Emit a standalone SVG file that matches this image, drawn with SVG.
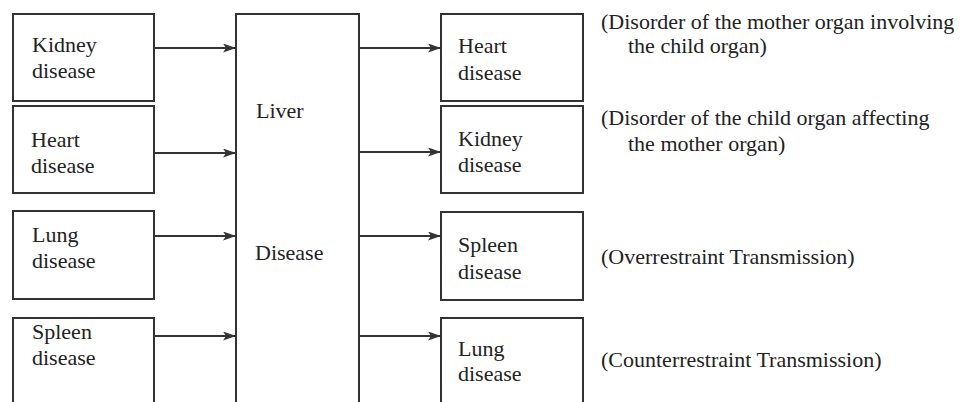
<svg xmlns="http://www.w3.org/2000/svg" width="974" height="402" viewBox="0 0 974 402">
<style>
.box{fill:none;stroke:#333;stroke-width:2}
.t{font-family:"Liberation Serif","Times New Roman",serif;font-size:22px;fill:#222}
.c line{stroke:#333;stroke-width:1.8}
</style>
<defs>
<marker id="ah" viewBox="0 0 13 9" refX="13" refY="4.5" markerWidth="13" markerHeight="9" markerUnits="userSpaceOnUse" orient="auto">
<path d="M0,0 L13,4.5 L0,9 L3,4.5 Z" fill="#333"/>
</marker>
</defs>
<rect width="974" height="402" fill="#fff"/>
<g id="left-kidney"><rect class="box" x="13" y="14" width="141" height="87"/><text class="t" x="32" y="52">Kidney</text><text class="t" x="32" y="78">disease</text></g>
<g id="left-heart"><rect class="box" x="13" y="106" width="141" height="87"/><text class="t" x="31" y="147">Heart</text><text class="t" x="31" y="173">disease</text></g>
<g id="left-lung"><rect class="box" x="13" y="211" width="141" height="88"/><text class="t" x="32" y="242">Lung</text><text class="t" x="32" y="268">disease</text></g>
<g id="left-spleen"><rect class="box" x="13" y="318" width="141" height="100"/><text class="t" x="32" y="339">Spleen</text><text class="t" x="32" y="365">disease</text></g>
<g id="liver"><rect class="box" x="236" y="14" width="123" height="404"/><text class="t" x="256" y="118">Liver</text><text class="t" x="255" y="260">Disease</text></g>
<g id="right-heart"><rect class="box" x="441" y="14" width="142" height="87"/><text class="t" x="458" y="53">Heart</text><text class="t" x="458" y="80">disease</text></g>
<g id="right-kidney"><rect class="box" x="441" y="106" width="142" height="87"/><text class="t" x="458" y="146">Kidney</text><text class="t" x="458" y="172">disease</text></g>
<g id="right-spleen"><rect class="box" x="441" y="212" width="142" height="88"/><text class="t" x="458" y="252">Spleen</text><text class="t" x="458" y="279">disease</text></g>
<g id="right-lung"><rect class="box" x="441" y="318" width="142" height="100"/><text class="t" x="458" y="356">Lung</text><text class="t" x="458" y="381">disease</text></g>
<g id="notes">
<text class="t" x="601" y="29">(Disorder of the mother organ involving</text>
<text class="t" x="628" y="53">the child organ)</text>
<text class="t" x="601" y="125">(Disorder of the child organ affecting</text>
<text class="t" x="628" y="151">the mother organ)</text>
<text class="t" x="601" y="264">(Overrestraint Transmission)</text>
<text class="t" x="601" y="367">(Counterrestraint Transmission)</text>
</g>
<g id="connectors" class="c">
<line x1="154" y1="48" x2="236" y2="48" marker-end="url(#ah)"/>
<line x1="154" y1="153" x2="236" y2="153" marker-end="url(#ah)"/>
<line x1="154" y1="236" x2="236" y2="236" marker-end="url(#ah)"/>
<line x1="154" y1="336" x2="236" y2="336" marker-end="url(#ah)"/>
<line x1="359" y1="48" x2="441" y2="48" marker-end="url(#ah)"/>
<line x1="359" y1="152" x2="441" y2="152" marker-end="url(#ah)"/>
<line x1="359" y1="236" x2="441" y2="236" marker-end="url(#ah)"/>
<line x1="359" y1="336" x2="441" y2="336" marker-end="url(#ah)"/>
</g>
</svg>
